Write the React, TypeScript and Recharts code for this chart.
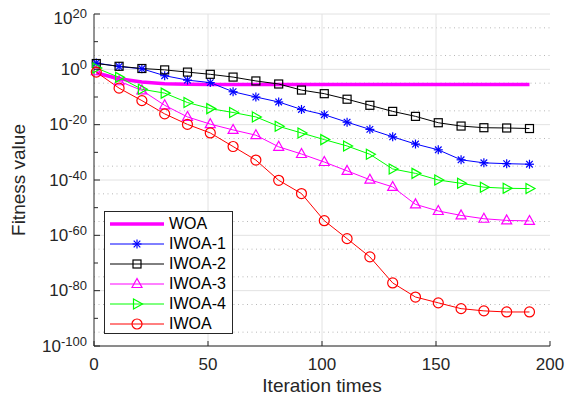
import React from "react";
import { LineChart, Line, XAxis, YAxis, CartesianGrid, Label } from "recharts";

const FONT = "'Liberation Sans', Arial, Helvetica, sans-serif";
const INK = "#262626";

// iteration where each marker sits
const iterations = [1, 11, 21, 31, 41, 51, 61, 71, 81, 91, 101, 111, 121, 131, 141, 151, 161, 171, 181, 191];

// fitness values, stored as powers of ten
const woaExp = [-1.3, -3.4, -4.6, -5.2, -5.4, -5.5, -5.5, -5.5, -5.5, -5.5, -5.5, -5.5, -5.5, -5.5, -5.5, -5.5, -5.5, -5.5, -5.5, -5.5];
const iwoa1Exp = [2.3, 1, 0.2, -2.3, -3.9, -4.8, -8.1, -10, -11.8, -14.5, -16.4, -19.1, -21.7, -24.4, -27, -29.1, -32.7, -33.8, -34.1, -34.3];
const iwoa2Exp = [2.1, 1.1, 0.3, -0.2, -1, -1.8, -2.8, -4.2, -5.3, -7.5, -8.8, -10.8, -13, -15.2, -17, -19.3, -20.5, -21.1, -21.2, -21.4];
const iwoa3Exp = [-0.7, -4.3, -7.6, -13, -17.2, -19.8, -21.9, -23.8, -28, -30.6, -33.5, -36.7, -39.9, -42.5, -48.8, -51.2, -52.8, -54, -54.6, -54.8];
const iwoa4Exp = [0.5, -2.9, -7.2, -8.6, -12, -14.2, -15.6, -17.2, -20.6, -23, -25.4, -27.7, -30.7, -36, -37.6, -40, -41.2, -42.6, -43, -43.1];
const iwoaExp = [-1, -6.8, -11.3, -16.1, -19.9, -23, -27.9, -32.8, -40.1, -44.9, -54.7, -61.2, -67.8, -77.2, -82.3, -84.4, -86.5, -87.3, -87.7, -87.7];

const xTicks = [0, 50, 100, 150, 200];
const xGrid = [50, 100, 150];
const yMajor = [1e-100, 1e-80, 1e-60, 1e-40, 1e-20, 1e0, 1e20];
const yMinor = [
  1e-95, 1e-90, 1e-85, 1e-75, 1e-70, 1e-65, 1e-55, 1e-50, 1e-45, 1e-35, 1e-30, 1e-25,
  1e-15, 1e-10, 1e-5, 1e5, 1e10, 1e15,
];
const yAll = [...yMajor, ...yMinor].sort((a, b) => a - b);

const data = iterations.map((it, i) => ({
  it,
  woa: 10 ** woaExp[i],
  iwoa1: 10 ** iwoa1Exp[i],
  iwoa2: 10 ** iwoa2Exp[i],
  iwoa3: 10 ** iwoa3Exp[i],
  iwoa4: 10 ** iwoa4Exp[i],
  iwoa: 10 ** iwoaExp[i],
}));

const series = [
  { key: "woa", name: "WOA", color: "#ff00ff", marker: "none", width: 3.5 },
  { key: "iwoa1", name: "IWOA-1", color: "#0000ff", marker: "star", width: 1 },
  { key: "iwoa2", name: "IWOA-2", color: "#000000", marker: "square", width: 1 },
  { key: "iwoa3", name: "IWOA-3", color: "#ff00ff", marker: "triUp", width: 1 },
  { key: "iwoa4", name: "IWOA-4", color: "#00ff00", marker: "triRight", width: 1 },
  { key: "iwoa", name: "IWOA", color: "#ff0000", marker: "circle", width: 1 },
];

function marker(kind: string, cx: number, cy: number, color: string, key?: string) {
  const s = { fill: "none", stroke: color, strokeWidth: 1.2 };
  switch (kind) {
    case "star":
      return (
        <g key={key} {...s}>
          <line x1={cx} y1={cy - 4.5} x2={cx} y2={cy + 4.5} />
          <line x1={cx - 4.5} y1={cy} x2={cx + 4.5} y2={cy} />
          <line x1={cx - 3.3} y1={cy - 3.3} x2={cx + 3.3} y2={cy + 3.3} />
          <line x1={cx - 3.3} y1={cy + 3.3} x2={cx + 3.3} y2={cy - 3.3} />
        </g>
      );
    case "square":
      return <rect key={key} x={cx - 4} y={cy - 4} width={8} height={8} {...s} />;
    case "triUp":
      return <polygon key={key} points={`${cx},${cy - 5.5} ${cx - 5},${cy + 3.5} ${cx + 5},${cy + 3.5}`} {...s} />;
    case "triRight":
      return <polygon key={key} points={`${cx + 5.5},${cy} ${cx - 3.5},${cy - 5} ${cx - 3.5},${cy + 5}`} {...s} />;
    case "circle":
      return <circle key={key} cx={cx} cy={cy} r={5} {...s} />;
  }
  return <g key={key} />;
}

const isMajor = (v: number) => yMajor.includes(v);

const LeftTick = (props: any) => {
  const { x, y, payload } = props;
  const v = payload.value;
  const e = Math.round(Math.log10(v));
  const len = isMajor(v) ? 6 : 4;
  return (
    <g>
      <line x1={x + 7} x2={x + 7 + len} y1={y} y2={y} stroke={INK} />
      {isMajor(v) && (
        <text x={x} y={y + (e === 20 ? 9.5 : 5.5)} textAnchor="end" fill={INK} fontSize={17} fontFamily={FONT}>
          10
          <tspan fontSize={13} dy={-6}>
            {e}
          </tspan>
        </text>
      )}
    </g>
  );
};

const RightTick = (props: any) => {
  const { x, y, payload } = props;
  const len = isMajor(payload.value) ? 6 : 4;
  return <line x1={x} x2={x - len} y1={y} y2={y} stroke={INK} />;
};

const BottomTick = (props: any) => {
  const { x, y, payload } = props;
  return (
    <g>
      <line x1={x} x2={x} y1={y - 12} y2={y - 17} stroke={INK} />
      <text x={x} y={y + 12} textAnchor="middle" fill={INK} fontSize={17} fontFamily={FONT}>
        {payload.value}
      </text>
    </g>
  );
};

const TopTick = (props: any) => {
  const { x, y } = props;
  return <line x1={x} x2={x} y1={y} y2={y + 5} stroke={INK} />;
};

const LegendBox = () => (
  <div
    style={{
      position: "absolute",
      left: 104,
      top: 211,
      width: 129,
      height: 123,
      boxSizing: "border-box",
      border: `1px solid ${INK}`,
      background: "#fff",
      paddingTop: 2,
      fontFamily: FONT,
      fontSize: 16,
    }}
  >
    {series.map((s) => (
      <div key={s.key} style={{ display: "flex", alignItems: "center", height: 20 }}>
        <svg width={60} height={20} style={{ display: "block" }}>
          <line x1={5} x2={59} y1={10} y2={10} stroke={s.color} strokeWidth={s.width} />
          {marker(s.marker, 32, 10, s.color)}
        </svg>
        <span style={{ marginLeft: 4, color: "#000", lineHeight: "20px" }}>{s.name}</span>
      </div>
    ))}
  </div>
);

export default function App() {
  return (
    <div style={{ position: "absolute", left: 0, top: 0, width: 565, height: 399, background: "#fff" }}>
      <LineChart width={565} height={399} data={data} margin={{ top: 14, right: 15, bottom: 0, left: 0 }}>
        <CartesianGrid
          horizontalValues={yMinor}
          vertical={false}
          stroke="#b8b8b8"
          strokeDasharray="1 3.5"
        />
        <CartesianGrid horizontalValues={yMajor} verticalValues={xGrid} stroke="#e2e2e2" />
        <XAxis
          dataKey="it"
          type="number"
          domain={[0, 200]}
          ticks={xTicks}
          height={53}
          tickSize={0}
          tickMargin={12}
          tick={(p: any) => <BottomTick {...p} />}
          axisLine={{ stroke: INK }}
        >
          <Label
            value="Iteration times"
            position="insideBottom"
            offset={7}
            fill={INK}
            fontSize={19}
            fontFamily={FONT}
          />
        </XAxis>
        <XAxis
          xAxisId="top"
          orientation="top"
          type="number"
          domain={[0, 200]}
          ticks={xTicks}
          height={0}
          tickSize={0}
          tickMargin={0}
          tick={(p: any) => <TopTick {...p} />}
          axisLine={{ stroke: INK }}
        />
        <YAxis
          type="number"
          scale="log"
          domain={[1e-100, 1e20]}
          allowDataOverflow
          ticks={yAll}
          width={94}
          tickSize={0}
          tickMargin={7}
          tick={(p: any) => <LeftTick {...p} />}
          axisLine={{ stroke: INK }}
        >
          <Label
            value="Fitness value"
            angle={-90}
            position="insideLeft"
            offset={18}
            fill={INK}
            fontSize={19}
            fontFamily={FONT}
            style={{ textAnchor: "middle" }}
          />
        </YAxis>
        <YAxis
          yAxisId="right"
          orientation="right"
          type="number"
          scale="log"
          domain={[1e-100, 1e20]}
          allowDataOverflow
          ticks={yAll}
          width={0}
          tickSize={0}
          tickMargin={0}
          tick={(p: any) => <RightTick {...p} />}
          axisLine={{ stroke: INK }}
        />
        {series.map((s) => (
          <Line
            key={s.key}
            dataKey={s.key}
            type="linear"
            stroke={s.color}
            strokeWidth={s.width}
            isAnimationActive={false}
            activeDot={false}
            dot={
              s.marker === "none"
                ? false
                : (p: any) => marker(s.marker, p.cx, p.cy, s.color, `${s.key}-${p.index}`)
            }
          />
        ))}
      </LineChart>
      <LegendBox />
    </div>
  );
}
